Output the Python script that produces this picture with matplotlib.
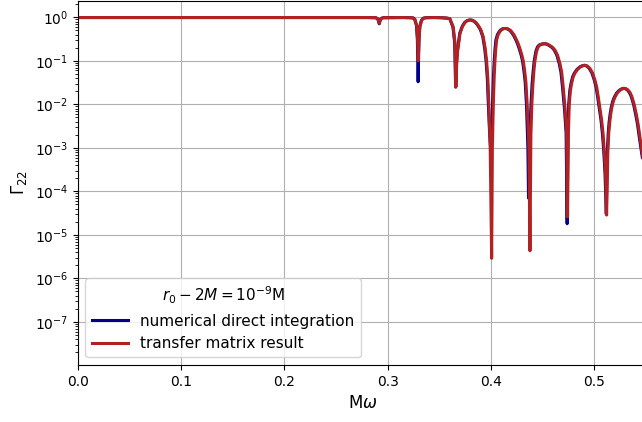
import numpy as np
import matplotlib
matplotlib.use('Agg')
import matplotlib.pyplot as plt

# transmission coefficient Gamma_22 against M*omega, read off the two solvers
# transfer matrix result
omega_tm = [0.0, 0.1, 0.2, 0.28,
            0.2885, 0.2905, 0.2913, 0.2919, 0.2925, 0.2935, 0.2955,
            0.315, 0.322,
            0.3248, 0.3264, 0.3281, 0.3289, 0.3296, 0.3305, 0.3313, 0.3329, 0.3345, 0.3371,
            0.345, 0.352,
            0.3574, 0.3603, 0.3635, 0.3652, 0.3661, 0.3668, 0.3678, 0.3701, 0.3725, 0.3748,
            0.3772, 0.3797, 0.3818, 0.3836, 0.3857, 0.3877, 0.3902, 0.3925, 0.3945, 0.3958,
            0.3970, 0.3980, 0.3993, 0.4007,
            0.4014, 0.4024, 0.4032, 0.4039, 0.4047, 0.4055, 0.4070, 0.4087, 0.4100, 0.4116,
            0.4130, 0.4145, 0.4160, 0.4174, 0.4188, 0.4200, 0.4225, 0.4249,
            0.4265, 0.4281, 0.4298, 0.4313, 0.4327, 0.4339, 0.4351, 0.4368, 0.4378,
            0.4387, 0.4397, 0.4407, 0.4417, 0.4426, 0.4442, 0.4458, 0.4475, 0.4491, 0.4510,
            0.4529, 0.4550, 0.4571, 0.4596, 0.4620, 0.4645, 0.4668, 0.4685, 0.4700, 0.4718,
            0.4733, 0.4742,
            0.4750, 0.4758, 0.4770, 0.4781, 0.4797, 0.4813, 0.4840, 0.4868, 0.4890, 0.4910,
            0.4934, 0.4958, 0.4983, 0.5007, 0.5024, 0.5039, 0.5056, 0.5072, 0.5085, 0.5097,
            0.5110, 0.5120,
            0.5132, 0.5141, 0.5151, 0.5161, 0.5171, 0.5185, 0.5200, 0.5225, 0.5248, 0.5270,
            0.5290, 0.5308, 0.5326, 0.5346, 0.5365, 0.5388, 0.5410, 0.5426, 0.5442, 0.5471]
gamma_tm = [0.99, 0.99, 0.99, 0.99,
            0.98, 0.92, 0.80, 0.73, 0.82, 0.93, 0.98,
            0.99, 0.98,
            0.97, 0.90, 0.65, 0.35, 0.10, 0.35, 0.62, 0.85, 0.95, 0.98,
            0.99, 0.98,
            0.96, 0.93, 0.60, 0.26, 0.025, 0.08, 0.17, 0.43, 0.62, 0.76,
            0.84, 0.87, 0.86, 0.82, 0.75, 0.65, 0.52, 0.36, 0.19, 0.10,
            0.04, 0.01, 1e-3, 2.9e-6,
            1e-3, 0.012, 0.045, 0.10, 0.19, 0.30, 0.40, 0.47, 0.51, 0.54,
            0.553, 0.555, 0.548, 0.53, 0.505, 0.47, 0.39, 0.30,
            0.245, 0.19, 0.14, 0.10, 0.058, 0.032, 0.01, 1e-3, 4.3e-6,
            2e-3, 0.011, 0.03, 0.062, 0.10, 0.165, 0.21, 0.232, 0.24, 0.246,
            0.247, 0.241, 0.225, 0.205, 0.177, 0.135, 0.087, 0.055, 0.025, 8e-3,
            2.2e-3, 2.6e-5,
            2e-3, 0.01, 0.021, 0.03, 0.043, 0.052, 0.064, 0.073, 0.077, 0.079,
            0.076, 0.067, 0.053, 0.036, 0.025, 0.015, 8e-3, 4.3e-3, 2.2e-3, 8.9e-4,
            2.5e-4, 2.85e-5,
            8e-4, 2.2e-3, 4e-3, 6.2e-3, 8.5e-3, 0.0117, 0.0145, 0.0185, 0.021, 0.0226,
            0.0233, 0.0229, 0.0215, 0.0188, 0.015, 0.0098, 5.5e-3, 3.4e-3, 1.8e-3, 6e-4]

# numerical direct integration
omega_num = [0.0, 0.1, 0.2, 0.28,
             0.2885, 0.2905, 0.2913, 0.2919, 0.2925, 0.2935, 0.2955,
             0.315, 0.322,
             0.3246, 0.3262, 0.3279, 0.3288, 0.3295, 0.3303, 0.3311, 0.3327, 0.3343, 0.3369,
             0.345, 0.352,
             0.3572, 0.3601, 0.3632, 0.3649, 0.3658, 0.3665, 0.3675, 0.3698, 0.3722, 0.3745,
             0.3769, 0.3794, 0.3815, 0.3833, 0.3853, 0.3873, 0.3898, 0.3921, 0.3940, 0.3953,
             0.3965, 0.3975, 0.3988, 0.4001,
             0.4008, 0.4017, 0.4025, 0.4032, 0.4040, 0.4048, 0.4063, 0.4080, 0.4093, 0.4109,
             0.4123, 0.4138, 0.4153, 0.4167, 0.4181, 0.4193, 0.4218, 0.4242,
             0.4258, 0.4274, 0.4291, 0.4306, 0.4320, 0.4332, 0.4344, 0.4358, 0.4364,
             0.4376, 0.4389, 0.4399, 0.4410, 0.4419, 0.4435, 0.4451, 0.4468, 0.4484, 0.4503,
             0.4522, 0.4543, 0.4564, 0.4589, 0.4613, 0.4638, 0.4661, 0.4678, 0.4693, 0.4712,
             0.4728, 0.4738,
             0.4745, 0.4753, 0.4764, 0.4775, 0.4791, 0.4807, 0.4834, 0.4862, 0.4884, 0.4904,
             0.4928, 0.4952, 0.4977, 0.5001, 0.5018, 0.5033, 0.5050, 0.5066, 0.5079, 0.5092,
             0.5105, 0.5117,
             0.5127, 0.5136, 0.5145, 0.5155, 0.5165, 0.5179, 0.5194, 0.5219, 0.5242, 0.5264,
             0.5284, 0.5302, 0.5320, 0.5340, 0.5359, 0.5382, 0.5404, 0.5420, 0.5436, 0.5466]
gamma_num = [0.99, 0.99, 0.99, 0.99,
             0.98, 0.92, 0.80, 0.71, 0.82, 0.93, 0.98,
             0.99, 0.98,
             0.97, 0.90, 0.65, 0.30, 0.033, 0.30, 0.62, 0.85, 0.95, 0.98,
             0.99, 0.98,
             0.96, 0.93, 0.60, 0.26, 0.025, 0.08, 0.17, 0.43, 0.62, 0.76,
             0.84, 0.87, 0.86, 0.82, 0.75, 0.65, 0.52, 0.36, 0.19, 0.10,
             0.04, 0.01, 2e-3, 7.5e-4,
             2e-3, 0.012, 0.045, 0.10, 0.19, 0.30, 0.40, 0.47, 0.51, 0.54,
             0.553, 0.555, 0.548, 0.53, 0.505, 0.47, 0.39, 0.30,
             0.245, 0.19, 0.14, 0.10, 0.058, 0.032, 0.01, 1e-3, 7e-5,
             2e-3, 0.011, 0.03, 0.062, 0.10, 0.165, 0.21, 0.232, 0.24, 0.246,
             0.247, 0.241, 0.225, 0.205, 0.177, 0.135, 0.087, 0.055, 0.025, 8e-3,
             2.2e-3, 1.8e-5,
             2e-3, 0.01, 0.021, 0.03, 0.043, 0.052, 0.064, 0.073, 0.077, 0.079,
             0.076, 0.067, 0.053, 0.036, 0.025, 0.015, 8e-3, 4.3e-3, 2.2e-3, 8.9e-4,
             2.5e-4, 3e-5,
             8e-4, 2.2e-3, 4e-3, 6.2e-3, 8.5e-3, 0.0117, 0.0145, 0.0185, 0.021, 0.0226,
             0.0233, 0.0229, 0.0215, 0.0188, 0.015, 0.0098, 5.5e-3, 3.4e-3, 1.8e-3, 6e-4]

legend_title = r'$r_0-2M=10^{-9}$M'
label_num = 'numerical direct integration'
label_tm = 'transfer matrix result'

fig = plt.figure(figsize=(6.42, 4.22), dpi=100)
ax = fig.add_axes([0.1212, 0.1351, 0.888, 0.863])

ax.plot(omega_num, gamma_num, color='darkblue', lw=2.2, label=label_num)
ax.plot(omega_tm, gamma_tm, color='firebrick', lw=2.2, label=label_tm)

ax.set_yscale('log')
ax.set_xlim(0, 0.552)
ax.set_ylim(1.02e-8, 2.4)
ax.set_xticks([0.0, 0.1, 0.2, 0.3, 0.4, 0.5])
ax.grid(True, which='major')
ax.set_xlabel(r'M$\omega$', fontsize=12)
ax.set_ylabel(r'$\Gamma_{22}$', fontsize=12)
ax.legend(loc='lower left', title=legend_title, fontsize=11, title_fontsize=11,
          handlelength=2.4)

fig.savefig('out.png', dpi=100)
